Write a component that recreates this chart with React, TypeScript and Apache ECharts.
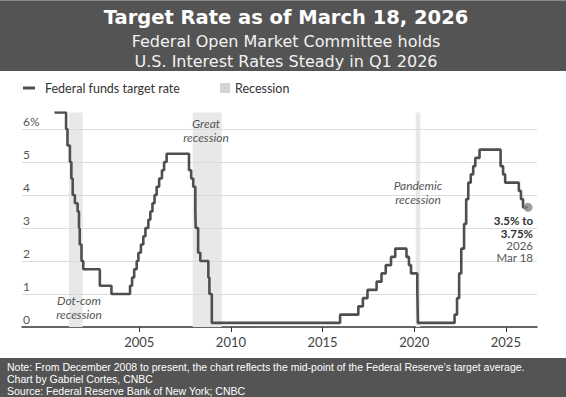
import React, { useEffect, useRef } from "react";
import * as echarts from "echarts";

// Federal funds target rate changes (date of change, new rate; mid-point after Dec 2008)
const changeDates = [
  "2000-05-16", "2001-01-03", "2001-01-31", "2001-03-20", "2001-04-18", "2001-05-15",
  "2001-06-27", "2001-08-21", "2001-09-17", "2001-10-02", "2001-11-06", "2001-12-11",
  "2002-11-06", "2003-06-25", "2004-06-30", "2004-08-10", "2004-09-21", "2004-11-10",
  "2004-12-14", "2005-02-02", "2005-03-22", "2005-05-03", "2005-06-30", "2005-08-09",
  "2005-09-20", "2005-11-01", "2005-12-13", "2006-01-31", "2006-03-28", "2006-05-10",
  "2006-06-29", "2007-09-18", "2007-10-31", "2007-12-11", "2008-01-22", "2008-01-30",
  "2008-03-18", "2008-04-30", "2008-10-08", "2008-10-29", "2008-12-16", "2015-12-16",
  "2016-12-14", "2017-03-15", "2017-06-14", "2017-12-13", "2018-03-21", "2018-06-13",
  "2018-09-26", "2018-12-19", "2019-07-31", "2019-09-18", "2019-10-30", "2020-03-03",
  "2020-03-15", "2022-03-16", "2022-05-04", "2022-06-15", "2022-07-27", "2022-09-21",
  "2022-11-02", "2022-12-14", "2023-02-01", "2023-03-22", "2023-05-03", "2023-07-26",
  "2024-09-18", "2024-11-07", "2024-12-18", "2025-09-17", "2025-10-29", "2025-12-10",
  "2026-03-18",
];
const targetRates = [
  6.5, 6.0, 5.5, 5.0, 4.5, 4.0,
  3.75, 3.5, 3.0, 2.5, 2.0, 1.75,
  1.25, 1.0, 1.25, 1.5, 1.75, 2.0,
  2.25, 2.5, 2.75, 3.0, 3.25, 3.5,
  3.75, 4.0, 4.25, 4.5, 4.75, 5.0,
  5.25, 4.75, 4.5, 4.25, 3.5, 3.0,
  2.25, 2.0, 1.5, 1.0, 0.125, 0.375,
  0.625, 0.875, 1.125, 1.375, 1.625, 1.875,
  2.125, 2.375, 2.125, 1.875, 1.625, 1.125,
  0.125, 0.375, 0.875, 1.625, 2.375, 3.125,
  3.875, 4.375, 4.625, 4.875, 5.125, 5.375,
  4.875, 4.625, 4.375, 4.125, 3.875, 3.625,
  3.625,
];
const recessionStarts = ["2001-03-01", "2007-12-01", "2020-02-01"];
const recessionEnds = ["2001-11-30", "2009-06-30", "2020-04-30"];
const recessionLabels = [["Dot-com", "recession"], ["Great", "recession"], ["Pandemic", "recession"]];
const xTickYears = [2005, 2010, 2015, 2020, 2025];
const yTickValues = [0, 1, 2, 3, 4, 5, 6];
const gridValues = [1, 2, 3, 4, 5, 6];
const latestDate = "2026-03-18";
const latestRate = 3.625;
const footerLines = [
  "Note: From December 2008 to present, the chart reflects the mid-point of the Federal Reserve\u2019s target average.",
  "Chart by Gabriel Cortes, CNBC",
  "Source: Federal Reserve Bank of New York; CNBC",
];

function toYear(s: string): number {
  const [y, m, d] = s.split("-").map(Number);
  const t = Date.UTC(y, m - 1, d);
  const a = Date.UTC(y, 0, 1);
  const b = Date.UTC(y + 1, 0, 1);
  return y + (t - a) / (b - a);
}

const FONT = "Lato, 'Open Sans', sans-serif";
const HFONT = "'DejaVu Sans', 'Open Sans', sans-serif";
const NFONT = "'Liberation Sans', Arial, sans-serif";

export default function App() {
  const ref = useRef<HTMLDivElement>(null);
  useEffect(() => {
    if (!ref.current) return;
    const chart = echarts.init(ref.current, undefined, { renderer: "svg" });
    const lineData = changeDates.map((d, i) => [toYear(d), targetRates[i]]);
    const italic = (x: number, y: number, text: string) => ({
      type: "text", x, y, z: 20,
      style: { text, fill: "#555", font: `italic 12px ${FONT}`, textAlign: "center", textVerticalAlign: "middle" },
    });
    const option: any = {
      animation: false,
      backgroundColor: "#ffffff",
      grid: { left: 22, right: 29, top: 112.5, bottom: 70, containLabel: false },
      xAxis: {
        type: "value",
        min: 1998.6,
        max: 2026.7,
        axisLine: { show: true, lineStyle: { color: "#333", width: 1.5 } },
        axisTick: { show: true, customValues: xTickYears, length: 5, lineStyle: { color: "#333", width: 1 } },
        axisLabel: {
          customValues: xTickYears,
          formatter: (v: number) => String(Math.round(v)),
          color: "#444",
          fontSize: 13,
          fontFamily: FONT,
          margin: 8,
        },
        splitLine: { show: false },
      },
      yAxis: {
        type: "value",
        min: 0,
        max: 6.5,
        axisLine: { show: false },
        axisTick: { show: false },
        splitLine: { show: false },
        axisLabel: {
          customValues: yTickValues,
          inside: true,
          formatter: (v: number) => (v === 6 ? "6%" : String(v)),
          color: "#555",
          fontSize: 12,
          fontFamily: FONT,
          verticalAlign: "bottom",
          align: "left",
          margin: 1,
          padding: [0, 0, 2, 0],
        },
      },
      series: [
        {
          name: "Federal funds target rate",
          type: "line",
          step: "end",
          data: lineData,
          showSymbol: false,
          lineStyle: { color: "#4f4f4f", width: 2.6 },
          itemStyle: { color: "#4f4f4f" },
          z: 3,
          markArea: {
            silent: true,
            z: 1,
            itemStyle: { color: "#e8e8e8", opacity: 1 },
            data: recessionStarts.map((s, i) => [{ xAxis: toYear(s) }, { xAxis: toYear(recessionEnds[i]) }]),
          },
          markLine: {
            silent: true,
            z: 1,
            symbol: ["none", "none"],
            label: { show: false },
            lineStyle: { color: "#dcdcdc", width: 1, type: "solid" },
            data: gridValues.map((v) => ({ yAxis: v })),
          },
        },
        {
          name: "Latest",
          type: "scatter",
          data: [[toYear(latestDate), latestRate]],
          symbolSize: 9,
          itemStyle: { color: "#858585" },
          z: 4,
        },
      ],
      graphic: [
        { type: "rect", shape: { x: 0, y: 0, width: 566, height: 71 }, style: { fill: "#545454" }, z: 10 },
        { type: "rect", shape: { x: 0, y: 0, width: 566, height: 1 }, style: { fill: "#8a8a8a" }, z: 11 },
        {
          type: "text", x: 286, y: 17, z: 12,
          style: { text: "Target Rate as of March 18, 2026", fill: "#ffffff", font: `bold 19.5px ${HFONT}`, textAlign: "center", textVerticalAlign: "middle" },
        },
        {
          type: "text", x: 286, y: 51.5, z: 12,
          style: {
            text: "Federal Open Market Committee holds\nU.S. Interest Rates Steady in Q1 2026",
            fill: "#f2f2f2", font: `16px ${HFONT}`, textAlign: "center", textVerticalAlign: "middle", lineHeight: 19.5,
          },
        },
        // legend
        { type: "rect", shape: { x: 23, y: 86.5, width: 12, height: 3 }, style: { fill: "#4f4f4f" }, z: 20 },
        {
          type: "text", x: 45, y: 88, z: 20,
          style: { text: "Federal funds target rate", fill: "#333", font: `12.5px ${FONT}`, textVerticalAlign: "middle" },
        },
        { type: "rect", shape: { x: 220, y: 83, width: 10, height: 10 }, style: { fill: "#d4d4d4" }, z: 20 },
        {
          type: "text", x: 235, y: 88, z: 20,
          style: { text: "Recession", fill: "#333", font: `12.5px ${FONT}`, textVerticalAlign: "middle" },
        },
        // recession labels
        italic(79, 300, recessionLabels[0][0]),
        italic(79, 314, recessionLabels[0][1]),
        italic(206, 123, recessionLabels[1][0]),
        italic(206, 137, recessionLabels[1][1]),
        italic(418, 185, recessionLabels[2][0]),
        italic(418, 199, recessionLabels[2][1]),
        // latest value label
        {
          type: "text", x: 533, y: 220, z: 20,
          style: { text: "3.5% to", fill: "#333", font: `bold 11.5px ${FONT}`, textAlign: "right", textVerticalAlign: "middle" },
        },
        {
          type: "text", x: 533, y: 233, z: 20,
          style: { text: "3.75%", fill: "#333", font: `bold 11.5px ${FONT}`, textAlign: "right", textVerticalAlign: "middle" },
        },
        {
          type: "text", x: 533, y: 245.5, z: 20,
          style: { text: "2026", fill: "#555", font: `11.5px ${FONT}`, textAlign: "right", textVerticalAlign: "middle" },
        },
        {
          type: "text", x: 533, y: 257.5, z: 20,
          style: { text: "Mar 18", fill: "#555", font: `11.5px ${FONT}`, textAlign: "right", textVerticalAlign: "middle" },
        },
        // footer
        { type: "rect", shape: { x: 0, y: 358, width: 566, height: 39 }, style: { fill: "#545454" }, z: 10 },
        ...footerLines.map((t, i) => ({
          type: "text", x: 7, y: 366.5 + i * 12, z: 12,
          style: { text: t, fill: "#ffffff", font: `10.5px ${NFONT}`, textVerticalAlign: "middle" },
        })),
      ],
    };
    chart.setOption(option);
    return () => chart.dispose();
  }, []);
  return (
    <div
      ref={ref}
      style={{ position: "fixed", left: 0, top: 0, width: 566, height: 397 }}
    />
  );
}
